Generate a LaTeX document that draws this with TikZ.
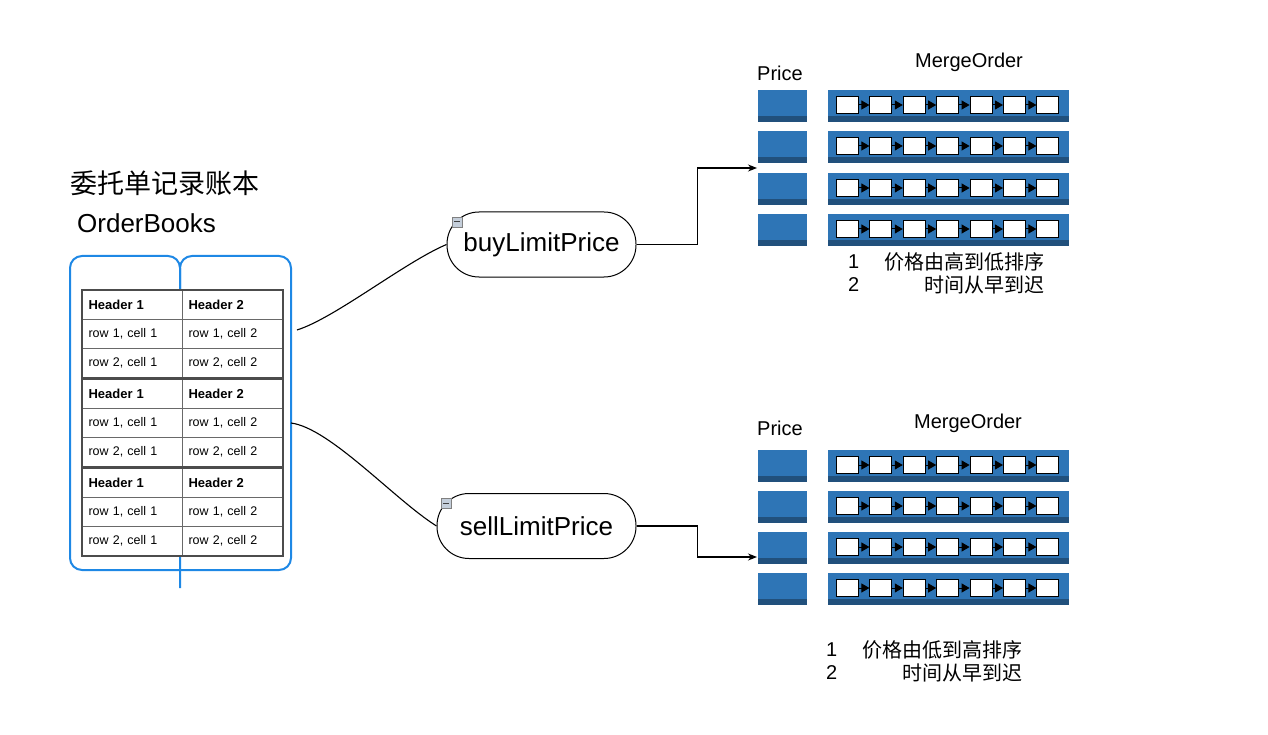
\documentclass[tikz,border=0pt]{standalone}
\usepackage{fontspec}
\setmainfont{Liberation Sans}
\newfontfamily\cjk{Noto Sans CJK SC}
\usepackage{tikz}
\usetikzlibrary{arrows.meta,shapes}
\usepackage{xcolor}
\definecolor{bookblue}{RGB}{30,136,229}
\definecolor{barblue}{RGB}{46,117,182}
\definecolor{bardark}{RGB}{33,80,124}
\definecolor{cellgray}{RGB}{105,105,105}
\definecolor{foldgray}{RGB}{196,206,218}

\begin{document}
\begin{tikzpicture}[x=1pt,y=-1pt,>={Stealth[length=9pt,width=7pt]}]
\tikzstyle{cell}=[draw=cellgray,fill=white,line width=1pt,anchor=north west,minimum height=29pt,text width=88pt,inner xsep=6pt,inner ysep=0pt,align=left,font=\fontsize{12.5}{14}\selectfont]
\tikzstyle{blockline}=[draw=black!70,line width=1.6pt]
\tikzstyle{limitnode}=[draw,line width=1pt,rounded corners=32pt,minimum height=65pt,inner sep=0pt,font=\fontsize{26}{30}\selectfont]
\tikzstyle{fold}=[draw=gray,fill=foldgray,minimum size=10pt,inner sep=0pt,line width=0.6pt]
\tikzstyle{pricebox}=[fill=barblue,anchor=north west,minimum width=49pt,minimum height=32pt,inner sep=0pt]
\tikzstyle{mergebar}=[fill=barblue,anchor=north west,minimum width=241pt,minimum height=32pt,inner sep=0pt]
\tikzstyle{order}=[draw=black,fill=white,line width=1pt,anchor=north west,minimum width=22pt,minimum height=17pt,inner sep=0pt]
\tikzstyle{chainarrow}=[-{Triangle[length=8pt,width=9pt]},line width=1pt]
\tikzstyle{label}=[anchor=west,inner sep=0pt,font=\fontsize{20}{24}\selectfont]
\tikzstyle{link}=[line width=1.1pt]

\useasboundingbox (0,0) rectangle (1268,735);

\node[anchor=west,inner sep=0pt,font=\fontsize{27}{30}\selectfont] (title) at (70,183) {\cjk 委托单记录账本};
\node[anchor=west,inner sep=0pt,font=\fontsize{26}{30}\selectfont] (books) at (77,223) {OrderBooks};

\draw[bookblue,line width=2pt,rounded corners=12pt] (180,588) -- (180,256) -- (70,256) -- (70,570) -- (180,570);
\draw[bookblue,line width=2pt,rounded corners=12pt] (180,570) -- (291,570) -- (291,256) -- (180,256) -- (180,300);

\foreach \b in {0,1,2}{
  \foreach \r in {0,1,2}{
    \ifnum\r=0 \def\ta{\fontsize{13}{14}\selectfont\bfseries Header 1}\def\tb{\fontsize{13}{14}\selectfont\bfseries Header 2}
    \else \def\ta{row \r, cell 1}\def\tb{row \r, cell 2}\fi
    \node[cell] (c\b\r1) at (82,{290+89*\b+29*\r}) {\ta};
    \node[cell] (c\b\r2) at (182,{290+89*\b+29*\r}) {\tb};
  }
  \draw[blockline] (c\b01.north west) rectangle (c\b22.south east);
}

\coordinate (tabout1) at (297,330);
\coordinate (tabout2) at (291,423);

\node[limitnode,minimum width=189pt] (buy) at (541.5,244.5) {buyLimitPrice};
\node[limitnode,minimum width=199pt] (sell) at (536.5,526) {sellLimitPrice};
\node[fold] (buyfold) at (457,222) {};
\node[fold] (sellfold) at (446,503) {};
\draw[black!75,line width=1pt] ([xshift=-3pt]buyfold.center) -- ([xshift=3pt]buyfold.center);
\draw[black!75,line width=1pt] ([xshift=-3pt]sellfold.center) -- ([xshift=3pt]sellfold.center);

\draw[link] (tabout1) .. controls (335,318) and (405,262) .. (buy.west);
\draw[link] (tabout2) .. controls (330,428) and (395,500) .. (sell.west);

\node[label] (price1) at (757,73) {Price};
\node[label,anchor=center] (merge1) at (969,62) {MergeOrder};
\node[label] (price2) at (757,428) {Price};
\node[label,anchor=center] (merge2) at (968,423) {MergeOrder};

\foreach \y/\n in {90/u1,131/u2,173/u3,214/u4,450/l1,491/l2,532/l3,573/l4}{
  \node[pricebox] (pb\n) at (758,\y) {};
  \fill[bardark] (pb\n.south west) rectangle ++(49,-6);
  \node[mergebar] (mb\n) at (828,\y) {};
  \fill[bardark] (mb\n.south west) rectangle ++(241,-6);
  \foreach \k in {0,...,6}{
    \node[order] (o\n\k) at ({836+33.4*\k},\y+6) {};
  }
  \foreach \k [evaluate=\k as \j using int(\k+1)] in {0,...,5}{
    \draw[chainarrow] (o\n\k.east) -- (o\n\j.west);
  }
}

\coordinate (buyin) at (757,168);
\coordinate (sellin) at (757,557);
\draw[link,->] (buy.east) -- ++(61,0) |- (buyin);
\draw[link,->] (sell.east) -- ++(61,0) |- (sellin);

\node[label] (buyn1) at (848,262) {1};
\node[label,anchor=east] (buyr1) at (1045,262) {\cjk 价格由高到低排序};
\node[label] (buyn2) at (848,285) {2};
\node[label,anchor=east] (buyr2) at (1045,285) {\cjk 时间从早到迟};
\node[label] (selln1) at (826,650) {1};
\node[label,anchor=east] (sellr1) at (1023,650) {\cjk 价格由低到高排序};
\node[label] (selln2) at (826,673) {2};
\node[label,anchor=east] (sellr2) at (1023,673) {\cjk 时间从早到迟};

\end{tikzpicture}
\end{document}
